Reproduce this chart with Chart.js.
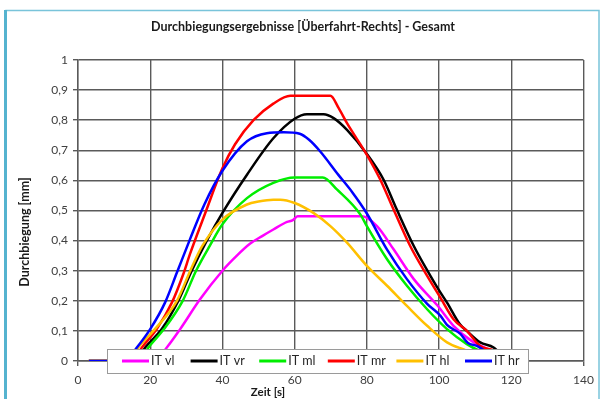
<!DOCTYPE html>
<html>
<head>
<meta charset="utf-8">
<script src="https://cdn.jsdelivr.net/npm/chart.js@4.4.1/dist/chart.umd.min.js"></script>
<style>
  html, body { margin: 0; padding: 0; background: #fff; }
  #wrap { width: 601px; height: 399px; position: relative; }
</style>
</head>
<body>
<div id="wrap"><canvas id="chart" width="601" height="399"></canvas></div>
<script>
var chartTitle = 'Durchbiegungsergebnisse [Überfahrt-Rechts] - Gesamt';
var xTitle = 'Zeit [s]';
var yTitle = 'Durchbiegung [mm]';

var seriesNames = ['IT vl', 'IT vr', 'IT ml', 'IT mr', 'IT hl', 'IT hr'];
var seriesColors = ['#ff00ff', '#000000', '#00ee00', '#ff0000', '#ffc000', '#0000ff'];

// values (time in s, deflection in mm)
var timeVl = [3, 21, 24.6, 28.3, 33.8, 40, 44, 47.7, 51, 54.1, 57.9, 59.5, 60.8, 78.7, 82.8, 87.4, 93, 99.5, 104, 109.6, 113.3, 116];
var valVl  = [0, 0, 0.045, 0.106, 0.205, 0.3, 0.35, 0.39, 0.415, 0.437, 0.462, 0.468, 0.481, 0.481, 0.448, 0.371, 0.272, 0.185, 0.117, 0.062, 0.04, 0.02];

var timeVr = [3, 16, 18.6, 23.2, 27.8, 31.5, 35.6, 40, 46.8, 54.1, 60, 63.4, 68, 70.8, 74.5, 80, 84.6, 88.3, 93, 97.6, 100.4, 102.2, 105.9, 107.7, 111.4, 115.1, 118];
var valVr  = [0, 0, 0.045, 0.106, 0.2, 0.3, 0.398, 0.492, 0.619, 0.74, 0.805, 0.82, 0.82, 0.807, 0.768, 0.688, 0.603, 0.503, 0.382, 0.283, 0.227, 0.194, 0.12, 0.1, 0.062, 0.045, 0.01];

var timeMl = [3, 17, 19.5, 23.8, 29, 32.7, 36.6, 40, 46.8, 54.1, 60, 67.8, 71.7, 78.2, 80, 85.6, 91.1, 96.7, 102.2, 107.7, 111, 115, 118];
var valMl  = [0, 0, 0.045, 0.106, 0.2, 0.3, 0.385, 0.454, 0.541, 0.592, 0.61, 0.61, 0.57, 0.487, 0.448, 0.338, 0.25, 0.172, 0.106, 0.056, 0.035, 0.02, 0];

var timeMr = [3, 15, 17.7, 21.8, 26, 29.2, 31, 35.2, 40, 43.5, 48.6, 54.1, 58.8, 69.9, 72.2, 74.5, 80, 83.7, 87.4, 92, 96.7, 100.4, 104, 107.7, 111.4, 115, 118];
var valMr  = [0, 0, 0.045, 0.106, 0.194, 0.29, 0.355, 0.49, 0.64, 0.72, 0.8, 0.855, 0.881, 0.881, 0.84, 0.79, 0.685, 0.603, 0.503, 0.382, 0.283, 0.21, 0.139, 0.1, 0.05, 0.035, 0.01];

var timeHl = [3, 14, 16.7, 21.3, 27.4, 31.1, 34.3, 40, 46.8, 50, 54.1, 56, 60, 65.2, 69.9, 74.5, 80, 85.6, 91.1, 96.7, 102.2, 107.7, 111, 114];
var valHl  = [0, 0, 0.045, 0.106, 0.2, 0.3, 0.38, 0.47, 0.52, 0.53, 0.536, 0.536, 0.525, 0.492, 0.448, 0.393, 0.316, 0.25, 0.183, 0.117, 0.062, 0.034, 0.015, 0];

var timeHr = [3, 13, 16.3, 20, 24.1, 27.4, 31, 35, 40, 46.8, 52.3, 57, 61.4, 64, 67.1, 72, 76, 80, 85.6, 91.1, 96.7, 100.4, 102.2, 105.9, 108, 110.5, 113, 116];
var valHr  = [0, 0, 0.045, 0.106, 0.194, 0.294, 0.404, 0.52, 0.632, 0.73, 0.757, 0.76, 0.755, 0.735, 0.696, 0.62, 0.56, 0.49, 0.37, 0.272, 0.19, 0.15, 0.12, 0.09, 0.06, 0.05, 0.03, 0];

var xTicks = [0, 20, 40, 60, 80, 100, 120, 140];
var yTicks = [0, 0.1, 0.2, 0.3, 0.4, 0.5, 0.6, 0.7, 0.8, 0.9, 1];

var allTimes = [timeVl, timeVr, timeMl, timeMr, timeHl, timeHr];
var allValues = [valVl, valVr, valMl, valMr, valHl, valHr];

function toPoints(ts, vs) {
    return ts.map(function(t, i) { return { x: t, y: vs[i] }; });
}

var datasets = seriesNames.map(function(name, i) {
    return {
        label: name,
        data: toPoints(allTimes[i], allValues[i]),
        borderColor: seriesColors[i],
        backgroundColor: seriesColors[i],
        borderWidth: 2.5,
        pointRadius: 0,
        fill: false,
        cubicInterpolationMode: 'monotone',
        order: seriesNames.length - i
    };
});

var FONT = 'Lato, "Open Sans", sans-serif';
var gridColor = '#5a5a5a';

// frame, titles and the legend box sitting on the x axis
var decorations = {
    id: 'decorations',
    beforeDraw: function(chart) {
        var ctx = chart.ctx;
        ctx.save();
        ctx.fillStyle = '#ffffff';
        ctx.fillRect(0, 0, chart.width, chart.height);
        ctx.strokeStyle = '#79c4da';
        ctx.lineWidth = 1.5;
        ctx.strokeRect(6, 10.5, 593, 400);
        ctx.fillStyle = '#55b3cf';
        ctx.fillRect(4, 10, 3, 389);
        ctx.restore();
    },
    afterDraw: function(chart) {
        var ctx = chart.ctx;
        ctx.save();
        ctx.fillStyle = '#1a1a1a';
        ctx.textAlign = 'center';
        ctx.textBaseline = 'middle';
        ctx.font = 'bold 12.5px ' + FONT;
        ctx.fillText(chartTitle, 303, 27);
        ctx.font = 'bold 11.5px ' + FONT;
        ctx.fillText(xTitle, 268, 392);
        ctx.save();
        ctx.translate(25, 232);
        ctx.rotate(-Math.PI / 2);
        ctx.font = 'bold 12.5px ' + FONT;
        ctx.fillText(yTitle, 0, 0);
        ctx.restore();

        // legend
        var bx = 107, by = 349, bw = 421, bh = 24;
        ctx.fillStyle = '#ffffff';
        ctx.fillRect(bx, by, bw, bh);
        ctx.strokeStyle = '#9a9a9a';
        ctx.lineWidth = 1;
        ctx.strokeRect(bx + 0.5, by + 0.5, bw, bh);
        ctx.font = '12.5px ' + FONT;
        ctx.textAlign = 'left';
        var cy = by + bh / 2;
        chart.data.datasets.forEach(function(ds, i) {
            var x0 = 122 + i * 68.6;
            ctx.strokeStyle = ds.borderColor;
            ctx.lineWidth = 3;
            ctx.beginPath();
            ctx.moveTo(x0, cy);
            ctx.lineTo(x0 + 27, cy);
            ctx.stroke();
            ctx.fillStyle = '#262626';
            ctx.fillText(ds.label, x0 + 29, cy);
        });
        ctx.restore();
    }
};

new Chart(document.getElementById('chart'), {
    type: 'line',
    data: { datasets: datasets },
    plugins: [decorations],
    options: {
        responsive: false,
        animation: false,
        devicePixelRatio: 1,
        layout: { padding: { top: 60, right: 17.5, left: 0, bottom: 0 } },
        plugins: {
            legend: { display: false },
            tooltip: { enabled: false },
            title: { display: false }
        },
        scales: {
            x: {
                type: 'linear',
                min: 0,
                max: 140,
                afterBuildTicks: function(s) { s.ticks = xTicks.map(function(v) { return { value: v }; }); },
                afterFit: function(s) { s.height = 38; },
                ticks: { color: '#404040', font: { family: FONT, size: 12 }, padding: 7, maxRotation: 0 },
                grid: { color: gridColor, lineWidth: 1.4, tickLength: 5 },
                border: { color: gridColor, width: 1.4 }
            },
            y: {
                min: 0,
                max: 1,
                afterBuildTicks: function(s) { s.ticks = yTicks.map(function(v) { return { value: v }; }); },
                afterFit: function(s) { s.width = 78; },
                ticks: {
                    color: '#404040',
                    font: { family: FONT, size: 12 },
                    padding: 5,
                    callback: function(v) { return v.toFixed(1).replace('.', ',').replace(/^1,0$/, '1').replace(/^0,0$/, '0'); }
                },
                grid: { color: gridColor, lineWidth: 1.4, tickLength: 5 },
                border: { color: gridColor, width: 1.4 }
            }
        }
    }
});
</script>
</body>
</html>
